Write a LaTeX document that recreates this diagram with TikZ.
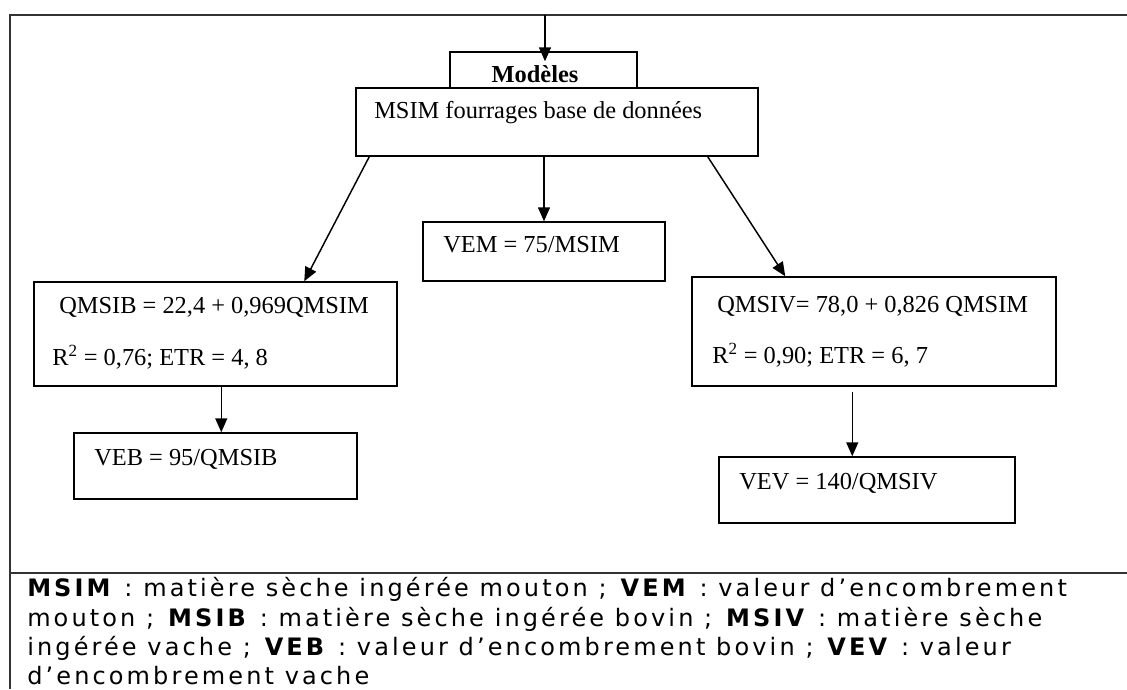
\documentclass[tikz,border=0pt]{standalone}
\usepackage{fontspec}
\setmainfont{Liberation Serif}
\newfontfamily\legfont[LetterSpace=13]{DejaVu Sans}
\usetikzlibrary{arrows.meta,calc,fit}
\begin{document}
\begin{tikzpicture}[x=0.75pt,y=-0.75pt,
  box/.style={draw, line width=1.1pt, inner sep=0pt, rectangle},
  arr/.style={draw, line width=1.1pt, -{Triangle[length=10.5pt,width=9pt]}},
  lbl/.style={anchor=base west, inner sep=0pt, font=\fontsize{18.3pt}{22pt}\selectfont},
  leg/.style={anchor=base west, inner sep=0pt, font=\legfont\fontsize{18pt}{21pt}\selectfont},
  frameline/.style={line width=1.5pt, draw=black!80}]
\useasboundingbox (0,0) rectangle (1127,689);
% frame
\coordinate (tl) at (10,15);
\coordinate (tr) at (1127,15);
\coordinate (bl) at (10,689);
\coordinate (ml) at (10,573);
\coordinate (mr) at (1127,573);
\coordinate (in) at (545,15);
\draw[frameline] (tr) -- (tl) -- (bl);
\draw[frameline] (ml) -- (mr);
% boxes
\node[box, fit={(450,52) (637,88)}] (modeles) {};
\node[box, fit={(356,88) (758,156)}] (msim) {};
\node[box, fit={(423,222) (665,281)}] (vem) {};
\node[box, fit={(34,282) (397,386)}] (qmsib) {};
\node[box, fit={(74,433) (357,499)}] (veb) {};
\node[box, fit={(692,277) (1056,386)}] (qmsiv) {};
\node[box, fit={(719,457) (1015,523)}] (vev) {};
% texts
\node[lbl, anchor=base] (tmod) at (535,82) {\bfseries Modèles};
\node[lbl] (tmsim) at (374,118) {MSIM fourrages base de données};
\node[lbl] (tvem) at (443,252) {VEM = 75/MSIM};
\node[lbl] (tqb) at (59,313) {QMSIB = 22,4 + 0,969QMSIM};
\node[lbl] (trb) at (52,365) {R\textsuperscript{2} = 0,76; ETR = 4, 8};
\node[lbl] (tveb) at (94,465) {VEB = 95/QMSIB};
\node[lbl] (tqv) at (717,312) {QMSIV= 78,0 + 0,826 QMSIM};
\node[lbl] (trv) at (712,363) {R\textsuperscript{2} = 0,90; ETR = 6, 7};
\node[lbl] (tvev) at (739,489) {VEV = 140/QMSIV};
% arrows
\draw[arr] (in) -- ($(modeles.north)+(1.5,10)$);
\draw[arr] (msim.south -| vem.north) -- (vem.north);
\draw[arr] ($(msim.south west)+(14,0)$) -- ($(qmsib.north west)+(271,0)$);
\draw[arr] ($(msim.south east)+(-51,0)$) -- ($(qmsiv.north west)+(94,0)$);
\draw[arr] ($(qmsib.south west)+(188,0)$) -- ($(veb.north west)+(148,0)$);
\draw[arr] ($(qmsiv.south west)+(161,5)$) -- ($(vev.north west)+(134,0)$);
% legend
\node[leg] (leg1) at (27,596) {\textbf{MSIM} : matière sèche ingérée mouton ; \textbf{VEM} : valeur d’encombrement};
\node[leg] (leg2) at (27,626) {mouton ; \textbf{MSIB} : matière sèche ingérée bovin ; \textbf{MSIV} : matière sèche};
\node[leg] (leg3) at (27,655) {ingérée vache ; \textbf{VEB} : valeur d’encombrement bovin ; \textbf{VEV} : valeur};
\node[leg] (leg4) at (27,684) {d’encombrement vache};
\end{tikzpicture}
\end{document}
